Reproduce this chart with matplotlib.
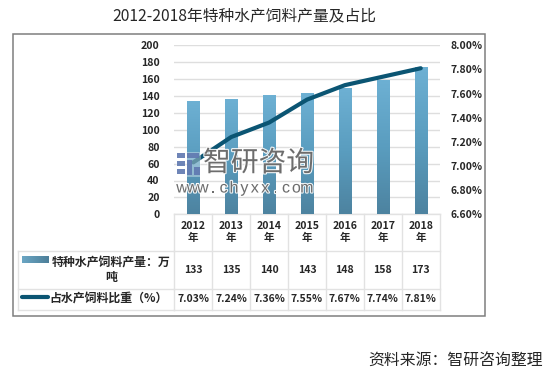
import matplotlib
matplotlib.use("Agg")
import numpy as np
import matplotlib.pyplot as plt
import matplotlib.patheffects as pe
from matplotlib.patches import Rectangle
from matplotlib.colors import LinearSegmentedColormap

plt.rcParams['font.family'] = ['Noto Sans CJK SC', 'DejaVu Sans']

# Data
years = ["2012\n年", "2013\n年", "2014\n年", "2015\n年", "2016\n年", "2017\n年", "2018\n年"]
output = [133, 135, 140, 143, 148, 158, 173]
share = [7.03, 7.24, 7.36, 7.55, 7.67, 7.74, 7.81]
share_labels = ["7.03%", "7.24%", "7.36%", "7.55%", "7.67%", "7.74%", "7.81%"]
left_ticks = [0, 20, 40, 60, 80, 100, 120, 140, 160, 180, 200]
right_ticks = [6.6, 6.8, 7.0, 7.2, 7.4, 7.6, 7.8, 8.0]
bar_name = "特种水产饲料产量：万\n吨"
line_name = "占水产饲料比重（%）"
title = "2012-2018年特种水产饲料产量及占比"
source = "资料来源：智研咨询整理"

W, H = 548, 377
fig = plt.figure(figsize=(W / 100, H / 100), dpi=100)
bg = fig.add_axes([0, 0, 1, 1])
bg.set_xlim(0, W)
bg.set_ylim(H, 0)
bg.axis("off")

# frame
bg.add_patch(Rectangle((12.5, 34), 472, 282, fc="white", ec="#7f7f7f", lw=1.1))

# plot area
x0, x1, y_top, y_bot = 174.3, 439.7, 45.3, 214.3
ax = fig.add_axes([x0 / W, 1 - y_bot / H, (x1 - x0) / W, (y_bot - y_top) / H])
ax.patch.set_alpha(0)
ax.set_yticks(left_ticks)
ax.set_xticks([])
ax.tick_params(length=0, pad=10.5, labelsize=7.6)
for lab in ax.get_yticklabels():
    lab.set_fontweight("bold")
    lab.set_color("#262626")
ax.grid(axis="y", color="#dedede", lw=1)
ax.set_axisbelow(True)
for s in ax.spines.values():
    s.set_visible(False)

# bars with vertical gradient
cmap = LinearSegmentedColormap.from_list("bar", ["#6db0d3", "#5a9dbf", "#4d83a0"])
grad = np.linspace(0, 1, 100).reshape(-1, 1)
bars = ax.bar(range(len(output)), output, width=0.325, color="none", zorder=2)
for b in bars:
    ax.imshow(grad, cmap=cmap, aspect="auto", zorder=2,
              extent=[b.get_x(), b.get_x() + b.get_width(), 0, b.get_height()])
ax.set_xlim(-0.5, 6.5)
ax.set_ylim(0, 200)

# line on the right axis
ax2 = ax.twinx()
ax2.set_ylim(6.6, 8.0)
ax2.set_yticks(right_ticks)
ax2.set_yticklabels([f"{v:.2f}%" for v in right_ticks])
ax2.tick_params(length=0, pad=7.6, labelsize=7.5)
for lab in ax2.get_yticklabels():
    lab.set_fontweight("bold")
    lab.set_color("#262626")
for s in ax2.spines.values():
    s.set_visible(False)
ax2.plot(range(len(share)), share, color="#0b5573", lw=3, solid_capstyle="round",
         solid_joinstyle="round", zorder=3)

# data table below the axes
col_w = (x1 - x0) / 7
rows_y = [214.3, 250.7, 288.7, 310]
grid_c = "#e2e2e2"
for y in rows_y:
    bg.plot([x0, x1], [y, y], color=grid_c, lw=1)
for y in rows_y[1:]:
    bg.plot([18, x0], [y, y], color=grid_c, lw=1)
bg.plot([18, 18], [rows_y[1], rows_y[3]], color=grid_c, lw=1)
for i in range(8):
    x = x0 + i * col_w
    bg.plot([x, x], [rows_y[0], rows_y[3]], color=grid_c, lw=1)

txt = dict(ha="center", va="center", fontweight="bold", color="#262626")
for i in range(7):
    x = x0 + (i + 0.5) * col_w
    bg.text(x, 232, years[i], linespacing=1.3, fontsize=7.6, **txt)
    bg.text(x, 269.7, str(output[i]), fontsize=7.6, **txt)
    bg.text(x, 299.3, share_labels[i], fontsize=7.5, **txt)

# legend keys in the table
key_cmap = LinearSegmentedColormap.from_list("k", ["#6ba6c4", "#4d7f99"])
bg.imshow(np.linspace(0, 1, 60).reshape(1, -1), cmap=key_cmap,
          extent=[21.7, 48.3, 263.3, 256.7], aspect="auto", zorder=2)
bg.set_xlim(0, W)
bg.set_ylim(H, 0)
bg.plot([21.5, 48], [297.4, 297.4], color="#0b5573", lw=3, solid_capstyle="round")
bg.text(111.3, 269.5, bar_name, linespacing=1.25, fontsize=8.6, **txt)
bg.text(109, 298.5, line_name, fontsize=8.6, **txt)

# title and source
bg.text(244.5, 16, title, ha="center", va="center", fontsize=11.3, color="#262626")
bg.text(456, 360, source, ha="center", va="center", fontsize=11.4, color="#262626")

# watermark
wm = fig.add_axes([0, 0, 1, 1])
wm.set_zorder(10)
wm.patch.set_visible(False)
wm.set_xlim(0, W)
wm.set_ylim(H, 0)
wm.axis("off")
halo = [pe.withStroke(linewidth=1.6, foreground=(1, 1, 1, 0.4))]
wm.text(258.5, 163, "智研咨询", ha="center", va="center", fontsize=20, color="#5f5f5f",
        alpha=0.9, path_effects=halo)
for i, ch in enumerate("www.chyxx.com"):
    wm.text(182 + i * 10.4, 188, ch, ha="center", va="center", fontsize=11.5,
            family="Liberation Sans", color="#5f5f5f", alpha=0.9, path_effects=halo)
wm.add_patch(Rectangle((175.5, 151.5), 25.5, 25, fc="white", ec="none", alpha=0.35))
for rx, ry, rw, rh in [(177, 153, 8, 5), (177, 161, 8, 5), (177, 169, 8, 5),
                       (187, 153, 12, 5), (187, 160, 5, 15), (194, 167, 6, 8)]:
    wm.add_patch(Rectangle((rx, ry), rw, rh, fc="#5f78b0", ec="none", alpha=0.9))

fig.savefig("out.png", dpi=100)
plt.close(fig)
